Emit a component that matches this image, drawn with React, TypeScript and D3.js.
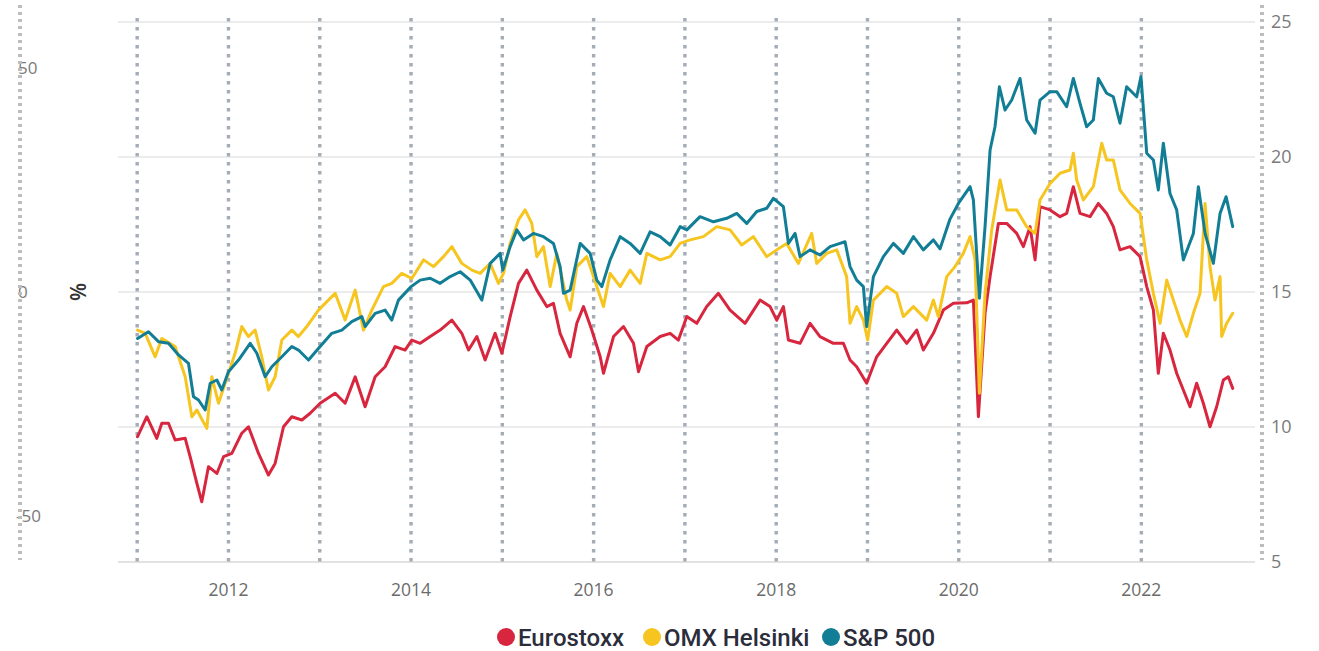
import * as d3 from 'd3';

// vertical year gridlines and x labels
const gridYears = [2011, 2012, 2013, 2014, 2015, 2016, 2017, 2018, 2019, 2020, 2021, 2022];
const yearLabels = [2012, 2014, 2016, 2018, 2020, 2022];
const rightTicks = [5, 10, 15, 20, 25];
const leftTicks = [-50, 0, 50];

// [decimal year, P/E]
const eurostoxx: [number, number][] = [
  [2011.004, 9.64], [2011.106, 10.38], [2011.215, 9.58], [2011.27, 10.14], [2011.343, 10.14], [2011.416, 9.52],
  [2011.526, 9.58], [2011.58, 8.9], [2011.654, 7.91], [2011.708, 7.23], [2011.781, 8.53], [2011.873, 8.28],
  [2011.946, 8.9], [2012.037, 9.02], [2012.146, 9.77], [2012.219, 10.01], [2012.329, 9.02], [2012.438, 8.22],
  [2012.511, 8.65], [2012.603, 10.01], [2012.694, 10.38], [2012.804, 10.26], [2012.895, 10.51], [2013.004, 10.88],
  [2013.169, 11.25], [2013.278, 10.88], [2013.388, 11.86], [2013.497, 10.75], [2013.607, 11.86], [2013.716, 12.23],
  [2013.826, 12.98], [2013.935, 12.85], [2014.008, 13.22], [2014.1, 13.1], [2014.21, 13.35], [2014.319, 13.59],
  [2014.447, 13.96], [2014.556, 13.47], [2014.63, 12.85], [2014.721, 13.35], [2014.812, 12.48], [2014.921, 13.47],
  [2014.995, 12.73], [2015.086, 14.09], [2015.177, 15.32], [2015.268, 15.81], [2015.378, 15.07], [2015.487, 14.46],
  [2015.56, 14.58], [2015.633, 13.47], [2015.743, 12.6], [2015.816, 13.84], [2015.889, 14.46], [2015.98, 13.59],
  [2016.072, 12.6], [2016.108, 11.99], [2016.218, 13.35], [2016.327, 13.72], [2016.437, 13.1], [2016.492, 12.05],
  [2016.583, 12.98], [2016.729, 13.35], [2016.838, 13.47], [2016.929, 13.22], [2017.021, 14.09], [2017.13, 13.84],
  [2017.239, 14.46], [2017.367, 14.95], [2017.495, 14.33], [2017.659, 13.84], [2017.823, 14.7], [2017.933, 14.46],
  [2018.006, 13.96], [2018.079, 14.46], [2018.134, 13.22], [2018.261, 13.1], [2018.371, 13.84], [2018.48, 13.35],
  [2018.626, 13.1], [2018.736, 13.1], [2018.809, 12.48], [2018.882, 12.23], [2018.991, 11.62], [2019.101, 12.6],
  [2019.211, 13.1], [2019.32, 13.59], [2019.43, 13.1], [2019.539, 13.59], [2019.612, 12.85], [2019.722, 13.47],
  [2019.831, 14.33], [2019.941, 14.58], [2020.087, 14.6], [2020.16, 14.7], [2020.215, 10.38], [2020.288, 14.21],
  [2020.343, 15.57], [2020.434, 17.54], [2020.525, 17.54], [2020.635, 17.17], [2020.708, 16.68], [2020.781, 17.42],
  [2020.836, 16.19], [2020.89, 18.16], [2021.0, 18.04], [2021.109, 17.79], [2021.182, 17.91], [2021.255, 18.9],
  [2021.328, 17.91], [2021.438, 17.79], [2021.529, 18.28], [2021.62, 17.91], [2021.693, 17.42], [2021.766, 16.56],
  [2021.876, 16.68], [2021.986, 16.31], [2022.059, 15.2], [2022.132, 14.33], [2022.186, 11.99], [2022.241, 13.47],
  [2022.314, 12.85], [2022.387, 11.99], [2022.46, 11.37], [2022.533, 10.75], [2022.606, 11.62], [2022.679, 10.88],
  [2022.752, 10.01], [2022.825, 10.75], [2022.898, 11.74], [2022.953, 11.86], [2023.001, 11.43],
];

const omxHelsinki: [number, number][] = [
  [2011.004, 13.59], [2011.088, 13.47], [2011.197, 12.6], [2011.27, 13.28], [2011.416, 12.98], [2011.526, 11.86],
  [2011.599, 10.38], [2011.654, 10.63], [2011.763, 9.95], [2011.818, 11.86], [2011.891, 10.88], [2011.964, 11.62],
  [2012.073, 12.73], [2012.146, 13.72], [2012.219, 13.35], [2012.292, 13.59], [2012.365, 12.6], [2012.438, 11.37],
  [2012.511, 11.86], [2012.585, 13.22], [2012.694, 13.59], [2012.767, 13.35], [2012.858, 13.72], [2012.986, 14.33],
  [2013.059, 14.58], [2013.169, 14.95], [2013.278, 13.96], [2013.388, 15.07], [2013.479, 13.59], [2013.57, 14.33],
  [2013.698, 15.2], [2013.789, 15.32], [2013.899, 15.69], [2014.008, 15.5], [2014.137, 16.19], [2014.246, 15.94],
  [2014.356, 16.31], [2014.447, 16.68], [2014.556, 16.06], [2014.666, 15.81], [2014.757, 15.69], [2014.867, 16.06],
  [2014.958, 15.32], [2015.013, 15.69], [2015.086, 16.8], [2015.177, 17.67], [2015.25, 18.04], [2015.323, 17.54],
  [2015.378, 16.31], [2015.451, 16.68], [2015.524, 15.2], [2015.597, 16.43], [2015.706, 14.7], [2015.743, 14.33],
  [2015.816, 15.94], [2015.925, 16.31], [2015.999, 15.57], [2016.108, 14.46], [2016.181, 15.69], [2016.291, 15.2],
  [2016.4, 15.81], [2016.51, 15.32], [2016.583, 16.43], [2016.729, 16.19], [2016.838, 16.31], [2016.948, 16.8],
  [2017.057, 16.93], [2017.203, 17.05], [2017.349, 17.42], [2017.495, 17.3], [2017.622, 16.74], [2017.75, 17.05],
  [2017.896, 16.31], [2018.006, 16.56], [2018.115, 16.8], [2018.243, 16.06], [2018.389, 17.17], [2018.444, 16.06],
  [2018.553, 16.43], [2018.663, 16.56], [2018.772, 15.57], [2018.809, 13.84], [2018.882, 14.46], [2018.955, 13.96],
  [2019.002, 13.22], [2019.065, 14.7], [2019.211, 15.2], [2019.32, 14.95], [2019.393, 14.09], [2019.503, 14.46],
  [2019.649, 13.96], [2019.722, 14.7], [2019.776, 14.09], [2019.868, 15.57], [2019.959, 15.94], [2020.05, 16.43],
  [2020.124, 17.05], [2020.178, 16.19], [2020.226, 11.25], [2020.288, 14.95], [2020.361, 17.3], [2020.452, 19.15],
  [2020.525, 18.04], [2020.635, 18.04], [2020.744, 17.42], [2020.836, 17.17], [2020.89, 18.41], [2021.0, 19.02],
  [2021.109, 19.4], [2021.219, 19.52], [2021.255, 20.14], [2021.292, 19.15], [2021.365, 18.41], [2021.474, 18.9],
  [2021.566, 20.51], [2021.62, 19.89], [2021.693, 19.89], [2021.766, 18.78], [2021.876, 18.28], [2021.986, 17.91],
  [2022.059, 16.19], [2022.132, 14.95], [2022.205, 13.84], [2022.278, 15.44], [2022.351, 14.7], [2022.424, 13.96],
  [2022.497, 13.35], [2022.57, 14.21], [2022.643, 14.95], [2022.698, 18.28], [2022.752, 15.94], [2022.807, 14.7],
  [2022.862, 15.57], [2022.88, 13.35], [2022.935, 13.84], [2023.001, 14.21],
];

const sp500: [number, number][] = [
  [2011.004, 13.28], [2011.124, 13.53], [2011.234, 13.16], [2011.343, 13.1], [2011.453, 12.67], [2011.562, 12.36],
  [2011.617, 11.12], [2011.672, 11.0], [2011.745, 10.63], [2011.8, 11.62], [2011.873, 11.74], [2011.927, 11.37],
  [2012.0, 12.05], [2012.11, 12.48], [2012.238, 13.1], [2012.311, 12.73], [2012.402, 11.86], [2012.475, 12.23],
  [2012.585, 12.6], [2012.694, 12.98], [2012.767, 12.85], [2012.877, 12.48], [2013.004, 12.98], [2013.132, 13.47],
  [2013.242, 13.59], [2013.351, 13.9], [2013.461, 14.09], [2013.497, 13.72], [2013.607, 14.21], [2013.716, 14.33],
  [2013.789, 13.96], [2013.862, 14.7], [2014.001, 15.2], [2014.1, 15.44], [2014.21, 15.51], [2014.319, 15.32],
  [2014.429, 15.57], [2014.538, 15.75], [2014.648, 15.44], [2014.775, 14.7], [2014.867, 16.06], [2014.976, 16.43],
  [2015.005, 15.81], [2015.086, 16.68], [2015.159, 17.3], [2015.232, 16.93], [2015.341, 17.17], [2015.451, 17.05],
  [2015.56, 16.8], [2015.633, 15.94], [2015.67, 14.95], [2015.743, 15.07], [2015.853, 16.8], [2015.962, 16.43],
  [2016.035, 15.44], [2016.09, 15.2], [2016.181, 16.19], [2016.291, 17.05], [2016.4, 16.8], [2016.51, 16.43],
  [2016.619, 17.23], [2016.729, 17.05], [2016.838, 16.74], [2016.948, 17.42], [2017.021, 17.3], [2017.166, 17.79],
  [2017.312, 17.6], [2017.458, 17.73], [2017.568, 17.91], [2017.677, 17.54], [2017.787, 17.98], [2017.896, 18.1],
  [2017.969, 18.47], [2018.079, 18.16], [2018.134, 16.8], [2018.207, 17.17], [2018.261, 16.31], [2018.371, 16.56],
  [2018.48, 16.37], [2018.59, 16.68], [2018.699, 16.8], [2018.754, 16.86], [2018.809, 15.94], [2018.882, 15.44],
  [2018.955, 15.2], [2018.991, 13.72], [2019.065, 15.57], [2019.174, 16.31], [2019.284, 16.8], [2019.393, 16.43],
  [2019.503, 17.05], [2019.612, 16.56], [2019.722, 16.93], [2019.795, 16.6], [2019.904, 17.7], [2019.996, 18.28],
  [2020.124, 18.9], [2020.16, 18.41], [2020.226, 14.77], [2020.288, 17.42], [2020.343, 20.26], [2020.397, 21.12],
  [2020.445, 22.6], [2020.507, 21.74], [2020.58, 22.11], [2020.671, 22.91], [2020.744, 21.37], [2020.836, 20.88],
  [2020.89, 22.11], [2021.0, 22.42], [2021.073, 22.42], [2021.182, 21.86], [2021.255, 22.91], [2021.328, 21.99],
  [2021.401, 21.12], [2021.474, 21.37], [2021.529, 22.91], [2021.62, 22.36], [2021.693, 22.23], [2021.766, 21.25],
  [2021.839, 22.6], [2021.949, 22.23], [2021.996, 22.98], [2022.059, 20.14], [2022.132, 19.89], [2022.186, 18.78],
  [2022.241, 20.51], [2022.314, 18.65], [2022.387, 18.04], [2022.46, 16.19], [2022.57, 17.17], [2022.625, 18.9],
  [2022.698, 17.17], [2022.789, 16.06], [2022.862, 17.91], [2022.928, 18.53], [2023.001, 17.42],
];

const series = [
  { name: 'Eurostoxx', color: '#d8263f', data: eurostoxx },
  { name: 'OMX Helsinki', color: '#f6c520', data: omxHelsinki },
  { name: 'S&P 500', color: '#127e96', data: sp500 },
];

const W = 1319;
const H = 651;
const plotLeft = 118;
const plotRight = 1255;
const plotTop = 22;
const plotBottom = 562;

const x = d3.scaleLinear().domain([2010.79, 2023.245]).range([plotLeft, plotRight]);
const yRight = d3.scaleLinear().domain([5, 25]).range([plotBottom, plotTop]);
const yLeft = d3.scaleLinear().domain([-60.27, 60.27]).range([plotBottom, plotTop]);

const line = d3.line<[number, number]>()
  .x(d => x(d[0]))
  .y(d => yRight(d[1]));

const axisFont = "'Segoe UI', 'Open Sans', 'Noto Sans', sans-serif";
const legendPos = [506, 652, 831];

export default function App() {
  return (
    <div style={{ position: 'fixed', left: 0, top: 0, background: '#fff' }}>
      <svg width={W} height={H} style={{ display: 'block' }}>
        <rect width={W} height={H} fill="#fff" />

        {/* horizontal grid */}
        {rightTicks.map(t => (
          <line key={'h' + t} x1={plotLeft} x2={plotRight} y1={yRight(t)} y2={yRight(t)}
            stroke={t === 5 ? '#d9d9d9' : '#e6e6e6'} strokeWidth={1.3} />
        ))}

        {/* vertical dotted year lines */}
        {gridYears.map(yr => (
          <line key={'v' + yr} x1={x(yr)} x2={x(yr)} y1={18} y2={plotBottom}
            stroke="#a4acb6" strokeWidth={3.4} strokeDasharray="3.4 5.6" />
        ))}

        {/* left axis labels (drawn under the dotted axis line) */}
        {leftTicks.map(t => (
          <text key={'l' + t} x={t < 0 ? 16 : 18} y={yLeft(t)} dy="0.35em" fontFamily={axisFont}
            fontSize={17} fill="#7a7a7a">{t < 0 ? '-' + Math.abs(t) : t}</text>
        ))}
        <line x1={20} x2={20} y1={5} y2={560} stroke="#bdbdbd" strokeWidth={4} strokeDasharray="3 4" />
        <text transform={`translate(${86},${yLeft(0)}) rotate(-90)`} textAnchor="middle"
          fontFamily={axisFont} fontSize={21} fontWeight={600} fill="#333">%</text>

        {/* right axis */}
        <line x1={1262} x2={1262} y1={5} y2={560} stroke="#bdbdbd" strokeWidth={4} strokeDasharray="3 4" />
        {rightTicks.map(t => (
          <text key={'r' + t} x={1271} y={yRight(t)} dy="0.35em" fontFamily={axisFont}
            fontSize={18} fill="#7a7a7a">{t}</text>
        ))}

        {/* x labels */}
        {yearLabels.map(yr => (
          <text key={'x' + yr} x={x(yr)} y={590} dy="0.35em" textAnchor="middle"
            fontFamily={axisFont} fontSize={17.5} fill="#6b6b6b">{yr}</text>
        ))}

        {/* lines */}
        {series.map(s => (
          <path key={s.name} d={line(s.data) || ''} fill="none" stroke={s.color}
            strokeWidth={3} strokeLinejoin="round" strokeLinecap="round" />
        ))}

        {/* legend */}
        {series.map((s, i) => (
          <g key={'lg' + s.name} transform={`translate(${legendPos[i]},${637})`}>
            <circle r={9} fill={s.color} />
            <text x={12} dy="0.36em" fontFamily="'Roboto', sans-serif" fontWeight={500}
              fontSize={24} fill="#2b2d3a">{s.name}</text>
          </g>
        ))}
      </svg>
    </div>
  );
}
